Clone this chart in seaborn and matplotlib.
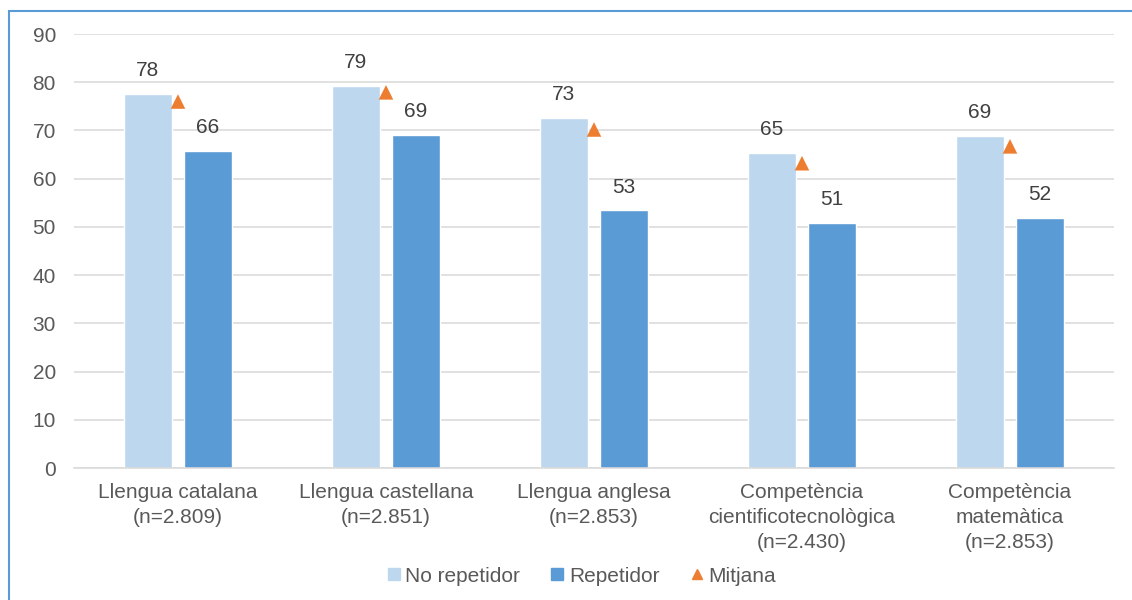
import pandas as pd
import matplotlib.pyplot as plt
import seaborn as sns
from matplotlib.lines import Line2D
from matplotlib.patches import Rectangle

# Data
categories = ["Llengua catalana\n(n=2.809)",
              "Llengua castellana\n(n=2.851)",
              "Llengua anglesa\n(n=2.853)",
              "Competència\ncientificotecnològica\n(n=2.430)",
              "Competència\nmatemàtica\n(n=2.853)"]
no_repetidor = [77.6, 79.2, 72.6, 65.3, 68.9]
repetidor = [65.8, 69.1, 53.4, 50.8, 51.8]
mitjana = [76.0, 77.9, 70.2, 63.2, 66.7]

groups = ["No repetidor", "Repetidor"]
colors = {"No repetidor": "#BDD7EE", "Repetidor": "#5B9BD5"}
tri_color = "#ED7D31"

df = pd.DataFrame({
    "cat": categories * 2,
    "val": no_repetidor + repetidor,
    "group": [groups[0]] * 5 + [groups[1]] * 5})

sns.set_style("white")
plt.rcParams["font.family"] = ["Liberation Sans", "DejaVu Sans"]

fig = plt.figure(figsize=(11.32, 6), dpi=100)
ax = fig.add_axes([74 / 1132, 1 - 468 / 600, 1040 / 1132, 434 / 600])

sns.barplot(data=df, x="cat", y="val", hue="group", order=categories,
            hue_order=groups, palette=colors, width=0.577, gap=0.216,
            ax=ax, legend=False, saturation=1)
sns.scatterplot(x=categories, y=mitjana, marker="^", s=110, color=tri_color,
                edgecolor="none", ax=ax, zorder=5)

for cont in ax.containers:
    ax.bar_label(cont, fmt="{:.0f}", padding=10, fontsize=15, color="#404040")

ax.set_ylim(0, 90)
ax.set_xlim(-0.5, 4.5)
ax.set_yticks(range(0, 91, 10))
ax.yaxis.grid(True, color="#D9D9D9", lw=1.1)
ax.set_axisbelow(True)
for s in ["top", "right", "left"]:
    ax.spines[s].set_visible(False)
ax.spines["bottom"].set_color("#D9D9D9")
ax.spines["bottom"].set_linewidth(1.1)
ax.tick_params(axis="both", length=0, labelsize=15, colors="#595959")
ax.tick_params(axis="x", pad=11)
ax.tick_params(axis="y", pad=13)
for lab in ax.get_xticklabels():
    lab.set_linespacing(1.4)
ax.set_xlabel("")
ax.set_ylabel("")

handles = [Line2D([], [], marker="s", ls="", color=colors["No repetidor"], markersize=8),
           Line2D([], [], marker="s", ls="", color=colors["Repetidor"], markersize=8),
           Line2D([], [], marker="^", ls="", color=tri_color, markersize=7)]
fig.legend(handles, ["No repetidor", "Repetidor", "Mitjana"], loc="center",
           bbox_to_anchor=(0.512, 0.040), ncol=3, frameon=False, fontsize=15,
           handletextpad=0.05, columnspacing=1.3, handlelength=1.0,
           labelcolor="#595959")

# blue frame around the chart
fig.patches.append(Rectangle((9 / 1132, -0.1), 2, 1 - 10.5 / 600 + 0.1,
                             transform=fig.transFigure, fill=False,
                             edgecolor="#5B9BD5", lw=1.5))

plt.savefig("out.png", dpi=100)
